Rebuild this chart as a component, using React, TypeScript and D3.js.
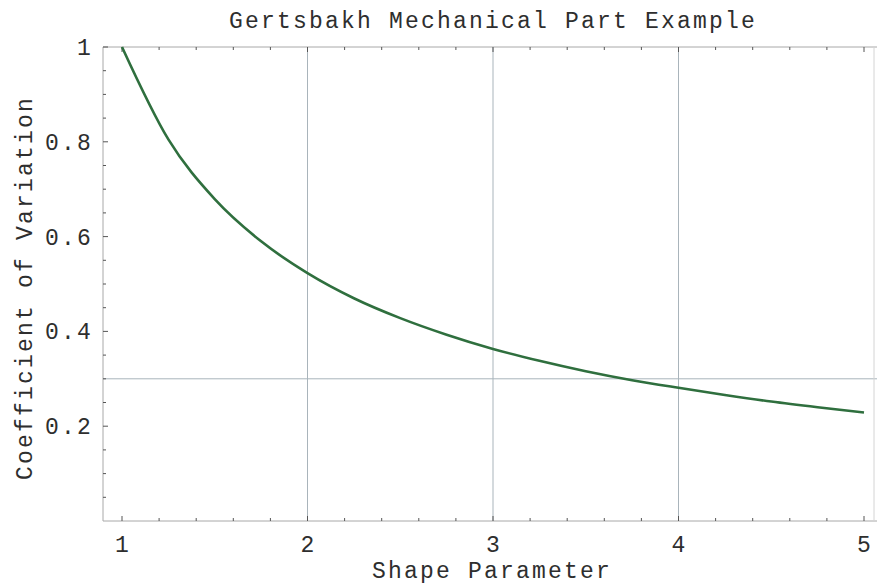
import React from "react";
import * as d3 from "d3";

// Weibull shape parameter vs. coefficient of variation
const shapeValues = [1, 1.25, 1.5, 1.75, 2, 2.25, 2.5, 2.75, 3, 3.25, 3.5, 3.75, 4, 4.25, 4.5, 4.75, 5];
const cvValues = [1.0, 0.805, 0.679, 0.59, 0.523, 0.47, 0.428, 0.393, 0.363, 0.338, 0.316, 0.297, 0.281, 0.266, 0.252, 0.24, 0.229];

const xTickValues = [1, 2, 3, 4, 5];
const yTickValues = [0.2, 0.4, 0.6, 0.8, 1];
const xGridValues = [2, 3, 4];
const yGridValues = [0.3];

const titleText = "Gertsbakh Mechanical Part Example";
const xLabelText = "Shape Parameter";
const yLabelText = "Coefficient of Variation";

const W = 877;
const H = 585;
const left = 103;
const right = 874;
const top = 47;
const bottom = 521;

export default function App() {
  const x = d3.scaleLinear().domain([1, 5]).range([122, 864]);
  const y = d3.scaleLinear().domain([0, 1]).range([bottom, top]);

  const points: [number, number][] = shapeValues.map((s, i) => [s, cvValues[i]]);
  const line = d3
    .line<[number, number]>()
    .x((d) => x(d[0]))
    .y((d) => y(d[1]))
    .curve(d3.curveMonotoneX);

  const xMinor = d3.range(0, 21).map((i) => 1 + i * 0.2);
  const yMinor = d3.range(1, 21).map((i) => i * 0.05);
  const isMajorX = (v: number) => Math.abs(v - Math.round(v)) < 1e-6;
  const isMajorY = (v: number) => Math.abs(v * 5 - Math.round(v * 5)) < 1e-6;

  const font = "'Liberation Mono', 'DejaVu Sans Mono', monospace";
  const fontSize = 23;
  const spacing = 2.2;
  const textColor = "#2e2e2e";
  const frameColor = "#a8a8a8";
  const tickColor = "#555";
  const gridColor = "#a9b4bb";

  const textProps = {
    fontFamily: font,
    fontSize,
    letterSpacing: spacing,
    fill: textColor,
  };

  return (
    <svg
      width={W}
      height={H}
      style={{ position: "absolute", left: 0, top: 0, background: "#fff" }}
    >
      <rect x={0} y={0} width={W} height={H} fill="#fff" />

      {/* grid lines */}
      {xGridValues.map((v) => (
        <line key={"gx" + v} x1={x(v)} x2={x(v)} y1={top} y2={bottom} stroke={gridColor} strokeWidth={1} />
      ))}
      {yGridValues.map((v) => (
        <line key={"gy" + v} x1={left} x2={W} y1={y(v)} y2={y(v)} stroke={gridColor} strokeWidth={1} />
      ))}

      {/* frame */}
      <line x1={left} x2={W} y1={top} y2={top} stroke={frameColor} strokeWidth={1} />
      <line x1={left} x2={W} y1={bottom} y2={bottom} stroke={frameColor} strokeWidth={1} />
      <line x1={left} x2={left} y1={top} y2={bottom} stroke={frameColor} strokeWidth={1} />
      <line x1={right} x2={right} y1={top} y2={bottom} stroke="#d4d4d4" strokeWidth={1} />

      {/* ticks on bottom and top */}
      {xMinor.map((v, i) => {
        const len = isMajorX(v) ? 5 : 3;
        return (
          <g key={"xt" + i}>
            <line x1={x(v)} x2={x(v)} y1={bottom} y2={bottom - len} stroke={tickColor} strokeWidth={1} />
            <line x1={x(v)} x2={x(v)} y1={top} y2={top + len} stroke={tickColor} strokeWidth={1} />
          </g>
        );
      })}
      {/* ticks on left */}
      {yMinor.map((v, i) => {
        const len = isMajorY(v) ? 5 : 3;
        return (
          <line key={"yt" + i} x1={left} x2={left + len} y1={y(v)} y2={y(v)} stroke={tickColor} strokeWidth={1} />
        );
      })}

      {/* curve */}
      <path d={line(points) || ""} fill="none" stroke="#2f6f3e" strokeWidth={2.6} strokeLinejoin="round" />

      {/* tick labels */}
      {xTickValues.map((v) => (
        <text key={"xl" + v} x={x(v) + spacing / 2} y={552} textAnchor="middle" {...textProps}>
          {d3.format("d")(v)}
        </text>
      ))}
      {yTickValues.map((v) => (
        <text key={"yl" + v} x={93} y={y(v)} dy="0.35em" textAnchor="end" {...textProps}>
          {v === 1 ? "1" : d3.format(".1f")(v)}
        </text>
      ))}

      {/* titles */}
      <text x={493} y={28} textAnchor="middle" {...textProps}>
        {titleText}
      </text>
      <text x={492} y={578} textAnchor="middle" {...textProps}>
        {xLabelText}
      </text>
      <text transform={`translate(32, ${288}) rotate(-90)`} textAnchor="middle" {...textProps}>
        {yLabelText}
      </text>
    </svg>
  );
}
